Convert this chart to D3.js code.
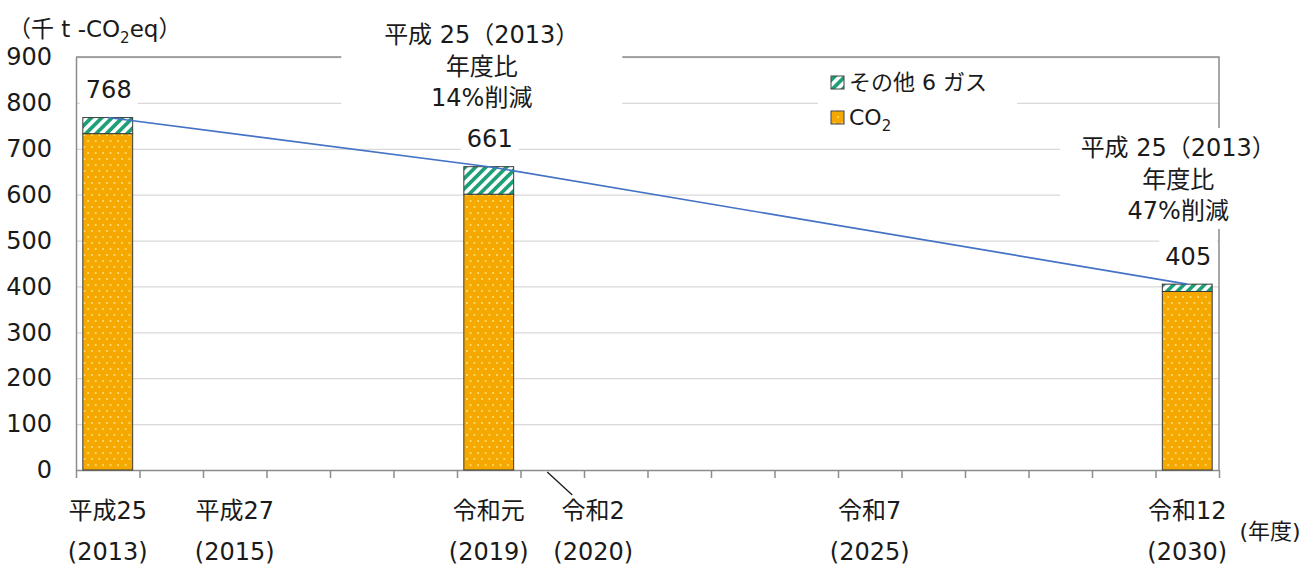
<!DOCTYPE html>
<html><head><meta charset="utf-8">
<script src="https://cdn.jsdelivr.net/npm/d3@7"></script>
<style>
html,body{margin:0;padding:0;background:#fff;}
svg{display:block;font-family:"DejaVu Sans","Noto Sans CJK JP",sans-serif;}
</style></head>
<body>
<svg id="c" width="1312" height="565"></svg>
<script>
// ---- data ----
const years = d3.range(2013, 2031);              // fiscal year categories 2013..2030
const barYears = [2013, 2019, 2030];
const co2Values = [733, 601, 389];
const otherValues = [35, 60, 16];
const totals = [768, 661, 405];
const yTicks = [0, 100, 200, 300, 400, 500, 600, 700, 800, 900];
const xLabelYears = [2013, 2015, 2019, 2020, 2025, 2030];
const xLabelEra = ["平成25", "平成27", "令和元", "令和2", "令和7", "令和12"];
const xLabelWestern = ["(2013)", "(2015)", "(2019)", "(2020)", "(2025)", "(2030)"];
const seriesNames = ["その他 6 ガス", "CO2"];
const note1 = ["平成 25（2013）", "年度比", "14%削減"];
const note2 = ["平成 25（2013）", "年度比", "47%削減"];

// ---- layout ----
const L = 76, R = 1219, T = 57, B = 470;
const svg = d3.select("#c");
const x = d3.scaleBand().domain(years).range([L, R]).padding(0);
const xt = d3.scaleLinear().domain([0, years.length]).range([L, R]);
const y = d3.scaleLinear().domain([0, 900]).range([B, T]);
const barW = x.bandwidth() * 0.785;
const cx = yr => x(yr) + x.bandwidth() / 2;
const FS = 24;

// patterns
const defs = svg.append("defs");
const dots = defs.append("pattern").attr("id", "dots").attr("patternUnits", "userSpaceOnUse")
  .attr("width", 7.5).attr("height", 12);
dots.append("rect").attr("width", 7.5).attr("height", 12).attr("fill", "#F5A800");
dots.append("circle").attr("cx", 1.9).attr("cy", 3).attr("r", 0.9).attr("fill", "#FFE690");
dots.append("circle").attr("cx", 5.65).attr("cy", 9).attr("r", 0.9).attr("fill", "#FFE690");
const hatch = defs.append("pattern").attr("id", "hatch").attr("patternUnits", "userSpaceOnUse")
  .attr("width", 7.3).attr("height", 7.3).attr("patternTransform", "rotate(45)");
hatch.append("rect").attr("width", 7.3).attr("height", 7.3).attr("fill", "#fff");
hatch.append("rect").attr("width", 3.7).attr("height", 7.3).attr("fill", "#1E9F78");

// gridlines
svg.append("g").attr("transform", `translate(${L},0)`)
  .call(d3.axisLeft(y).tickValues(yTicks.slice(1)).tickSize(-(R - L)).tickFormat(""))
  .call(g => g.select(".domain").remove())
  .call(g => g.selectAll("line").attr("stroke", "#D9D9D9").attr("stroke-width", 1.3));

// top/right border
svg.append("path").attr("d", `M${L},${T}H${R}V${B}`).attr("fill", "none")
  .attr("stroke", "#8C8C8C").attr("stroke-width", 1.5);

// y axis
svg.append("g").attr("transform", `translate(${L},0)`)
  .call(d3.axisLeft(y).tickValues(yTicks).tickSize(0).tickPadding(24))
  .call(g => g.select(".domain").attr("stroke", "#8C8C8C").attr("stroke-width", 1.5))
  .call(g => g.selectAll("text").attr("font-size", FS).attr("fill", "#1a1a1a")
    .attr("font-family", "DejaVu Sans"));

// x axis ticks
svg.append("g").attr("transform", `translate(0,${B})`)
  .call(d3.axisBottom(xt).tickValues(d3.range(years.length + 1)).tickSize(8).tickSizeOuter(0).tickFormat(""))
  .call(g => g.select(".domain").attr("stroke", "#8C8C8C").attr("stroke-width", 1.5))
  .call(g => g.selectAll("line").attr("stroke", "#8C8C8C").attr("stroke-width", 1.5));

// bars
const bars = svg.append("g");
barYears.forEach((yr, i) => {
  bars.append("rect").attr("x", cx(yr) - barW / 2).attr("y", y(co2Values[i]))
    .attr("width", barW).attr("height", y(0) - y(co2Values[i]))
    .attr("fill", "url(#dots)").attr("stroke", "#3a3a3a").attr("stroke-width", 1);
  bars.append("rect").attr("x", cx(yr) - barW / 2).attr("y", y(totals[i]))
    .attr("width", barW).attr("height", y(co2Values[i]) - y(totals[i]))
    .attr("fill", "url(#hatch)").attr("stroke", "#3a3a3a").attr("stroke-width", 1);
});

// line through totals
svg.append("path").datum(barYears.map((yr, i) => [cx(yr), y(totals[i])]))
  .attr("d", d3.line()).attr("fill", "none").attr("stroke", "#4472C4").attr("stroke-width", 1.6);

// x labels
const xl = svg.append("g").attr("font-size", FS).attr("fill", "#1a1a1a").attr("text-anchor", "middle");
xLabelYears.forEach((yr, i) => {
  const off = yr === 2020 ? 41 : 0;
  const px = cx(yr) + off;
  xl.append("text").attr("x", px).attr("y", 511).attr("dy", "0.35em").text(xLabelEra[i]);
  xl.append("text").attr("x", px).attr("y", 552).attr("dy", "0.35em").text(xLabelWestern[i]);
  if (off) {
    svg.append("line").attr("x1", cx(yr) - 5).attr("y1", B + 2).attr("x2", cx(yr) + 20).attr("y2", B + 25)
      .attr("stroke", "#1a1a1a").attr("stroke-width", 1.3);
  }
});
svg.append("text").attr("x", 1270).attr("y", 531).attr("dy", "0.35em").attr("text-anchor", "middle")
  .attr("font-size", 22).attr("fill", "#1a1a1a").text("(年度)");

// y title
const yt = svg.append("text").attr("x", 8).attr("y", 29).attr("dy", "0.35em").attr("font-size", 23).attr("fill", "#1a1a1a");
yt.append("tspan").text("（千 t -CO");
yt.append("tspan").attr("font-size", 15).attr("dy", 6).text("2");
yt.append("tspan").attr("dy", -6).text("eq）");

// value labels with white boxes
function boxedLabel(px, py, str, padX, padY) {
  const g = svg.append("g");
  const r = g.append("rect").attr("fill", "#fff");
  const t = g.append("text").attr("x", px).attr("y", py).attr("dy", "0.35em").attr("text-anchor", "middle")
    .attr("font-size", FS).attr("fill", "#1a1a1a").text(str);
  const bb = t.node().getBBox();
  r.attr("x", bb.x - padX).attr("y", bb.y - padY).attr("width", bb.width + 2 * padX).attr("height", bb.height + 2 * padY);
}
barYears.forEach((yr, i) => boxedLabel(cx(yr) + 1, y(totals[i]) - 28, String(totals[i]), 6, 4));

// annotation notes
function note(px, top, lines, w, h) {
  const g = svg.append("g");
  g.append("rect").attr("x", px - w / 2).attr("y", top).attr("width", w).attr("height", h).attr("fill", "#fff");
  lines.forEach((s, k) => g.append("text").attr("x", px).attr("y", top + 20 + k * 31.5).attr("dy", "0.35em")
    .attr("text-anchor", "middle").attr("font-size", FS).attr("fill", "#1a1a1a").text(s));
}
note(cx(2019) - 7, 15, note1, 281, 97);
note(cx(2030) - 9, 128, note2, 236, 101);

// legend
const lg = svg.append("g");
lg.append("rect").attr("x", 818).attr("y", 61).attr("width", 199).attr("height", 80).attr("fill", "#fff");
const sw = [["url(#hatch)", 76], ["url(#dots)", 111]];
seriesNames.forEach((n, i) => {
  lg.append("rect").attr("x", 831).attr("y", sw[i][1]).attr("width", 13).attr("height", 13)
    .attr("fill", sw[i][0]).attr("stroke", "#404040").attr("stroke-width", 1);
  const t = lg.append("text").attr("x", 849).attr("y", sw[i][1] + 6.5).attr("dy", "0.35em")
    .attr("font-size", 22).attr("fill", "#1a1a1a");
  if (n === "CO2") {
    t.append("tspan").text("CO");
    t.append("tspan").attr("font-size", 15).attr("dy", 6).text("2");
  } else t.text(n);
});
</script>
</body></html>
